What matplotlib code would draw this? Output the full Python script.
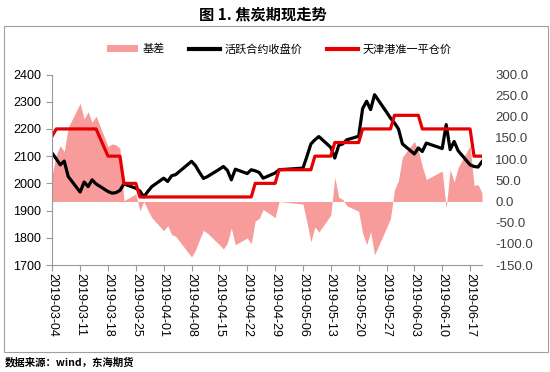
import matplotlib
matplotlib.use('Agg')
import matplotlib.pyplot as plt
from matplotlib.patches import Rectangle, Patch
from matplotlib.lines import Line2D
import pandas as pd

plt.rcParams['font.family'] = ['Noto Sans CJK SC', 'DejaVu Sans']

# trading days 2019-03-04 .. 2019-06-20 (exchange holidays removed)
holidays = ['2019-04-05', '2019-05-01', '2019-05-02', '2019-05-03', '2019-06-07']
dates = pd.bdate_range('2019-03-04', '2019-06-20')
dates = dates[~dates.isin(pd.to_datetime(holidays))]

# 活跃合约收盘价
futures = [
    2110, 2090, 2068, 2082, 2025,
    1968, 2005, 1988, 2013, 1998,
    1970, 1964, 1966, 1974, 1998,
    1982, 1972, 1950, 1970, 1988,
    2019, 2007, 2028, 2032,
    2081, 2065, 2040, 2018, 2025,
    2052, 2062, 2048, 2013, 2052,
    2036, 2050, 2046, 2040, 2019,
    2038, 2050,
    2056, 2099, 2145, 2160, 2172,
    2132, 2093, 2140, 2145, 2160,
    2173, 2275, 2302, 2271, 2326,
    2262, 2240, 2222, 2200, 2145,
    2108, 2130, 2117, 2148,
    2128, 2216, 2124, 2154, 2120,
    2068, 2062, 2060, 2080,
]

# 天津港准一平仓价
spot = [
    2175, 2200, 2200, 2200, 2200,
    2200, 2200, 2200, 2200, 2200,
    2100, 2100, 2100, 2100, 2000,
    2000, 1950, 1950, 1950, 1950,
    1950, 1950, 1950, 1950,
    1950, 1950, 1950, 1950, 1950,
    1950, 1950, 1950, 1950, 1950,
    1950, 1950, 2000, 2000, 2000,
    2000, 2050,
    2050, 2050, 2050, 2100, 2100,
    2100, 2150, 2150, 2150, 2150,
    2150, 2200, 2200, 2200, 2200,
    2200, 2200, 2250, 2250, 2250,
    2250, 2250, 2200, 2200,
    2200, 2200, 2200, 2200, 2200,
    2200, 2100, 2100, 2100,
]

# 基差
basis = [
    65, 110, 132, 118, 175,
    232, 195, 212, 187, 202,
    130, 136, 134, 126, 2,
    18, -22, 0, -20, -38,
    -69, -57, -78, -82,
    -131, -115, -90, -68, -75,
    -102, -112, -98, -63, -102,
    -86, -100, -46, -40, -19,
    -38, 0,
    -6, -49, -95, -60, -72,
    -32, 57, 10, 5, -10,
    -23, -75, -102, -71, -126,
    -62, -40, 28, 50, 105,
    142, 120, 83, 52,
    72, -16, 76, 46, 80,
    132, 38, 40, 20,
]

tick_dates = pd.date_range('2019-03-04', '2019-06-17', freq='7D')
tick_labels = [d.strftime('%Y-%m-%d') for d in tick_dates]

fig = plt.figure(figsize=(5.5, 3.72), dpi=100)
ax = fig.add_axes([52.3 / 550, 1 - 265 / 372, (482 - 52.3) / 550, (265 - 74.5) / 372])
ax2 = ax.twinx()

ax2.fill_between(dates, 0, basis, color='#F79B9B', linewidth=0)
ax.plot(dates, futures, color='black', lw=2.3)
ax.plot(dates, spot, color='#E60000', lw=2.3)

ax.set_zorder(ax2.get_zorder() + 1)
ax.patch.set_visible(False)

ax.set_xlim(dates[0], dates[-1])
ax.set_ylim(1700, 2400)
ax2.set_ylim(-150, 300)
ax.set_yticks(range(1700, 2401, 100))
ax2.set_yticks(range(-150, 301, 50))
ax2.set_yticklabels([f'{v:.1f}' for v in range(-150, 301, 50)],
                    family='Liberation Sans', fontsize=9.5, color='#404040')
ax.set_yticklabels([str(v) for v in range(1700, 2401, 100)],
                   family='Liberation Sans', fontsize=9)
ax.set_xticks(tick_dates)
ax.set_xticklabels(tick_labels, rotation=-90, family='Liberation Sans', fontsize=9)

for s in ['top', 'right']:
    ax.spines[s].set_visible(False)
for s in ax2.spines.values():
    s.set_visible(False)
ax.spines['left'].set_color('#999999')
ax.spines['bottom'].set_color('#999999')
ax.tick_params(axis='y', direction='out', length=4, color='#999999', pad=4)
ax.tick_params(axis='x', direction='out', length=4, color='#999999', pad=2)
ax2.tick_params(axis='y', length=0, pad=9.4)

handles = [Patch(facecolor='#F79B9B', edgecolor='none'),
           Line2D([], [], color='black', lw=3),
           Line2D([], [], color='#E60000', lw=3)]
fig.legend(handles, ['基差', '活跃合约收盘价', '天津港准一平仓价'],
           loc='center', bbox_to_anchor=(0.508, 1 - 49 / 372), ncol=3,
           frameon=False, fontsize=8, handlelength=2.8, handletextpad=0.4,
           columnspacing=2.2)

fig.add_artist(Rectangle((4 / 550, 1 - 352 / 372), 544 / 550, 326 / 372,
                         transform=fig.transFigure, fill=False,
                         edgecolor='#a0a0a0', lw=0.8))

fig.text(263 / 550, 1 - 14 / 372, '图 1. 焦炭期现走势', ha='center', va='center',
         fontsize=11, fontweight='bold')
fig.text(5 / 550, 1 - 362 / 372, '数据来源：wind，东海期货', ha='left', va='center',
         fontsize=7.5, fontweight='bold')

fig.savefig('out.png', dpi=100)
